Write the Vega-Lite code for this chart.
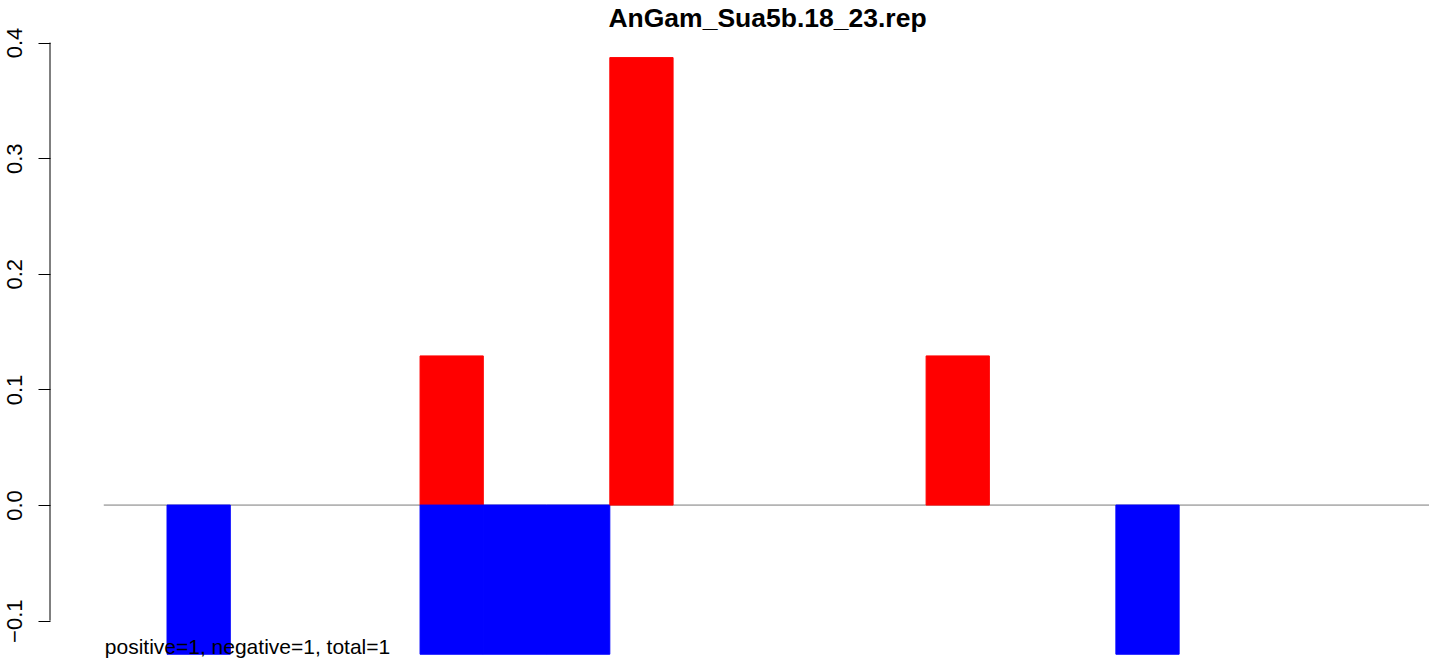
{
  "$schema": "https://vega.github.io/schema/vega-lite/v6.json",
  "autosize": {"type": "none"},
  "padding": {"left": 50, "top": 31, "right": 0, "bottom": 1},
  "width": 1379,
  "height": 629,
  "background": "white",
  "config": {"view": {"stroke": null}, "font": "Liberation Sans"},
  "title": {
    "text": "AnGam_Sua5b.18_23.rep",
    "font": "Liberation Sans",
    "fontSize": 26.5,
    "fontWeight": "bold",
    "color": "black",
    "anchor": "middle",
    "dx": 28,
    "offset": -5
  },
  "datasets": {
    "bars": [
      {"start": 1, "end": 2, "value": -0.129, "sign": "negative"},
      {"start": 5, "end": 6, "value": 0.129, "sign": "positive"},
      {"start": 5, "end": 6, "value": -0.129, "sign": "negative"},
      {"start": 6, "end": 7, "value": -0.129, "sign": "negative"},
      {"start": 7, "end": 8, "value": -0.129, "sign": "negative"},
      {"start": 8, "end": 9, "value": 0.387, "sign": "positive"},
      {"start": 13, "end": 14, "value": 0.129, "sign": "positive"},
      {"start": 16, "end": 17, "value": -0.129, "sign": "negative"}
    ],
    "note": [{"label": "positive=1, negative=1, total=1"}]
  },
  "layer": [
    {
      "data": {"values": [{"x0": 0, "x1": 20.96, "y": 0}]},
      "mark": {"type": "rule", "color": "#7a7a7a", "strokeWidth": 1},
      "encoding": {
        "x": {"field": "x0", "type": "quantitative", "scale": {"domain": [-0.85, 20.95], "nice": false, "zero": false}, "axis": null},
        "x2": {"field": "x1"},
        "y": {"field": "y", "type": "quantitative", "scale": {"domain": [-0.134, 0.41], "nice": false, "zero": false},
          "axis": {
            "values": [-0.1, 0, 0.1, 0.2, 0.3, 0.4],
            "format": ".1f",
            "domain": false,
            "grid": false,
            "title": null,
            "ticks": true,
            "tickSize": 12,
            "tickColor": "black",
            "tickWidth": 1,
            "labelAngle": -90,
            "labelAlign": "center",
            "labelBaseline": "alphabetic",
            "labelPadding": 17,
            "labelFontSize": 22,
            "labelFont": "Liberation Sans",
            "labelColor": "black",
            "labelOverlap": false,
            "labelFlush": false
          }
        }
      }
    },
    {
      "data": {"name": "bars"},
      "mark": {"type": "bar", "strokeWidth": 1},
      "encoding": {
        "x": {"field": "start", "type": "quantitative"},
        "x2": {"field": "end"},
        "y": {"field": "value", "type": "quantitative"},
        "y2": {"datum": 0},
        "color": {"field": "sign", "type": "nominal", "scale": {"domain": ["positive", "negative"], "range": ["#ff0000", "#0000ff"]}, "legend": null},
        "stroke": {"field": "sign", "type": "nominal", "scale": {"domain": ["positive", "negative"], "range": ["#ff0000", "#0000ff"]}, "legend": null}
      }
    },
    {
      "data": {"name": "note"},
      "mark": {"type": "text", "align": "left", "baseline": "alphabetic", "fontSize": 21, "font": "Liberation Sans", "color": "black", "dx": 1},
      "encoding": {
        "x": {"datum": 0, "type": "quantitative"},
        "y": {"datum": -0.129, "type": "quantitative"},
        "text": {"field": "label"}
      }
    },
    {
      "data": {"values": [{"a": -0.1, "b": 0.4}]},
      "mark": {"type": "rule", "color": "black", "strokeWidth": 1},
      "encoding": {
        "x": {"datum": -0.85, "type": "quantitative"},
        "y": {"field": "a", "type": "quantitative"},
        "y2": {"field": "b"}
      }
    }
  ]
}
